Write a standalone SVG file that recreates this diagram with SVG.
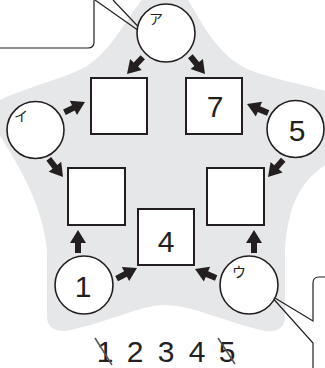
<svg xmlns="http://www.w3.org/2000/svg" width="325" height="368" viewBox="0 0 325 368">
<defs>
<style>
.bx{fill:#fff;stroke:#231f20;stroke-width:2}
.ci{fill:#fff;stroke:#231f20;stroke-width:1.6}
.num{font-family:"Liberation Sans",Arial,sans-serif;font-size:30px;fill:#231f20;text-anchor:middle}
.kana{font-family:"Noto Sans CJK JP",sans-serif;font-size:14px;fill:#231f20;text-anchor:middle}
.ln{fill:none;stroke:#231f20;stroke-width:1.2}
.ar{fill:#231f20}
</style>
<path id="arr" d="M0,0 L-13,-8 L-13,-3 L-23,-3 L-23,3 L-13,3 L-13,8 Z"/>
</defs>
<rect width="325" height="368" fill="#fff"/>
<path id="star" fill="#e6e7e8" d="M143,-2 C118,32 105,60 75,72 C50,82 20,90 -5,102 L-20,115 L-5,128 C15,160 42,200 47,250 L47,316 Q47,332 66,331 C110,322 140,305 165,305 C192,305 225,322 265,331 Q285,333 285,316 L285,250 C288,205 300,180 330,162 L340,150 L330,92 C285,80 255,75 240,65 C215,50 200,20 187,-2 Z"/>
<g id="callout-top">
<path class="ln" fill="#fff" d="M94,-2 L94,42 Q94,48 88,48 L-5,48"/>
<path class="ln" d="M95,0 L149,38 L113,0"/>
</g>
<g id="callout-bottom">
<path class="ln" d="M330,277 L319,277 Q313,277 313,283 L313,321 L270,295 L313,343 L313,370"/>
</g>
<g id="sq-tl"><rect class="bx" x="91" y="78" width="56" height="56"/></g>
<g id="sq-tr"><rect class="bx" x="186" y="78" width="56" height="56"/><text class="num" x="215" y="117">7</text></g>
<g id="sq-ml"><rect class="bx" x="68" y="168" width="57" height="57"/></g>
<g id="sq-mr"><rect class="bx" x="207" y="168" width="57" height="57"/></g>
<g id="sq-b"><rect class="bx" x="138" y="209" width="56" height="56"/><text class="num" x="166" y="252">4</text></g>
<g id="c-a"><circle class="ci" cx="166" cy="33" r="29"/><text class="kana" x="156" y="24">ア</text></g>
<g id="c-i"><circle class="ci" cx="35.5" cy="130" r="28.5"/><text class="kana" x="21" y="121">イ</text></g>
<g id="c-5"><circle class="ci" cx="295.5" cy="129" r="28.5"/><text class="num" x="297" y="141">5</text></g>
<g id="c-1"><circle class="ci" cx="84" cy="285" r="29"/><text class="num" x="83" y="297">1</text></g>
<g id="c-u"><circle class="ci" cx="249" cy="285" r="29"/><text class="kana" x="239" y="277">ウ</text></g>
<g id="connectors" class="ar">
<use href="#arr" transform="translate(127,74) rotate(133.3)"/>
<use href="#arr" transform="translate(205,74) rotate(50.5)"/>
<use href="#arr" transform="translate(85,102) rotate(-26.6)"/>
<use href="#arr" transform="translate(63,177) rotate(51.7)"/>
<use href="#arr" transform="translate(247,104) rotate(203.2)"/>
<use href="#arr" transform="translate(268,177) rotate(131.4)"/>
<use href="#arr" transform="translate(78,230) rotate(-90)"/>
<use href="#arr" transform="translate(137,268) rotate(-27.6)"/>
<use href="#arr" transform="translate(254,230) rotate(-90)"/>
<use href="#arr" transform="translate(195,269) rotate(203.2)"/>
</g>
<g id="sequence">
<text class="num" x="105" y="362">1</text>
<text class="num" x="135" y="362">2</text>
<text class="num" x="166" y="362">3</text>
<text class="num" x="197" y="362">4</text>
<text class="num" x="227" y="362">5</text>
<path d="M95,338 L112,365 M218,338 L235,364" stroke="#555" stroke-width="1.5" fill="none"/>
</g>
</svg>
